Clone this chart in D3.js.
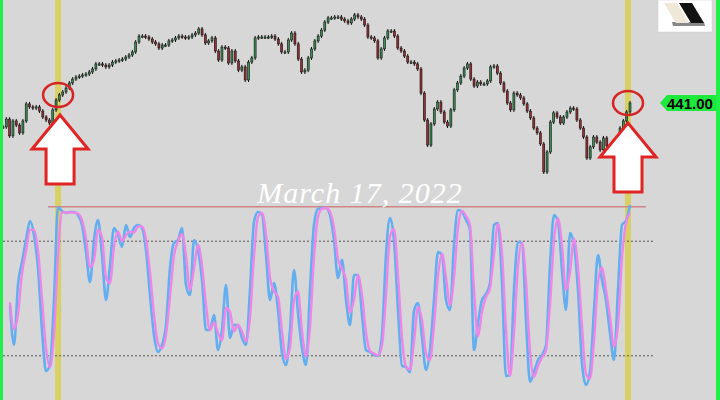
<!DOCTYPE html>
<html>
<head>
<meta charset="utf-8">
<script src="https://cdn.jsdelivr.net/npm/d3@7"></script>
<style>
body{margin:0;background:#d7d7d7;}
svg{display:block;}
</style>
</head>
<body>
<svg></svg>
<script>
// closing prices, one per bar
var closes = [430.6,434.0,426.7,433.2,431.4,428.0,433.2,440.6,439.3,438.8,
    439.3,437.5,434.9,433.6,432.3,438.0,442.3,444.5,445.8,447.5,
    449.7,451.4,452.3,452.7,453.2,453.6,454.5,455.8,458.0,458.0,
    457.5,456.7,457.5,458.8,459.3,459.7,460.1,461.0,461.9,463.2,
    467.5,470.1,470.1,469.7,468.8,467.5,466.7,464.9,466.2,466.2,
    468.0,468.4,469.3,470.1,469.7,469.3,469.7,470.6,471.4,473.2,
    470.6,467.1,468.0,469.3,463.6,459.7,465.3,464.9,458.4,463.6,
    459.3,455.3,456.7,451.0,458.8,460.6,469.3,469.7,469.7,469.7,
    469.7,470.1,468.8,466.7,463.2,463.2,468.4,471.4,466.7,460.1,
    454.5,455.3,460.6,464.5,468.0,470.1,472.7,476.2,478.0,478.0,
    478.4,478.4,477.5,476.7,475.8,477.5,479.3,478.4,477.5,474.9,
    469.7,469.3,468.0,460.6,464.5,469.3,472.3,472.3,470.1,464.9,
    463.6,461.4,458.8,458.8,458.0,455.8,445.3,433.6,422.7,431.9,
    438.4,441.4,437.1,432.7,431.0,438.0,446.7,449.7,452.7,456.2,
    458.0,451.4,448.4,450.1,449.3,449.3,450.6,456.7,457.1,454.0,
    449.7,446.2,441.0,438.0,445.3,444.5,443.2,440.6,437.5,434.5,
    430.1,428.0,423.2,411.0,419.7,432.7,436.7,434.9,432.3,434.9,
    437.1,438.8,438.4,433.6,430.1,426.2,417.1,421.9,426.2,424.0,
    420.6,425.8,422.3,418.4,417.1,424.5,430.1,433.2,437.1,441.0]

// stochastic %K and %D
var stochK = [46.6,25.7,57.1,69.1,80.6,90.6,83.2,66.0,33.5,12.0,
    15.2,49.2,97.9,95.8,94.8,95.3,95.3,93.7,88.5,74.3,
    58.6,80.6,91.1,72.8,49.2,67.5,86.9,83.2,77.0,88.5,
    82.2,86.9,88.5,86.9,75.4,51.8,30.9,22.0,25.7,36.1,
    66.0,79.1,80.6,86.9,57.1,51.8,80.6,75.4,59.7,33.5,
    33.5,41.4,23.0,33.5,57.1,29.3,36.1,36.1,29.3,25.7,
    54.5,90.1,95.3,94.2,72.8,49.2,58.1,44.0,21.5,15.2,
    33.5,64.9,42.4,24.1,15.2,54.5,88.5,96.9,97.4,97.4,
    93.7,80.6,60.7,70.2,49.2,36.1,62.3,62.3,41.4,23.0,
    22.0,20.4,19.9,30.9,72.8,92.1,80.6,44.0,14.7,14.1,
    11.5,43.5,47.6,29.8,12.6,23.0,49.2,74.3,72.8,49.2,
    44.0,78.0,96.3,95.3,91.1,85.9,23.0,37.2,49.2,52.4,
    58.1,88.5,89.5,58.1,9.4,9.9,54.5,79.6,79.1,38.7,
    6.3,11.5,17.8,20.4,25.7,67.5,93.7,90.1,64.9,44.0,
    84.3,78.0,54.5,16.2,4.7,11.5,44.0,72.8,59.7,49.2,
    31.9,17.8,54.5,88.5,90.6,99.0]

var stochD = [48,34,42,63,75,86,86,75,50,24,
    14,32,72,95,95,95,95,94.5,91,81.5,
    66.5,70,86,82,61,58,77,85,80,83,
    85,84.5,87.7,87.7,81,63.6,41.4,26.5,23.9,31,
    51,72.5,80,83.8,72,54.5,66,78,67.5,46.6,
    33.5,37.5,32,28,45,43,32.7,36.1,32.7,27.5,
    40,72.3,92.7,94.8,83.5,61,53.7,51,32.8,18.4,
    24.4,49,53.7,33,19.7,35,71.5,92.7,97,97.4,
    95.5,87,70.7,65.5,59.7,42.7,49.2,62.3,51.9,32.2,
    22.5,21.2,20.2,25.4,51.9,82.5,86.4,62.3,29.4,14.4,
    12.8,27.5,45.6,38.7,21.2,17.8,36.1,61.8,73.5,61,
    46.6,61,87.2,95.8,93.2,88.5,54.5,30,43,50.8,
    55.3,73.3,89,73.8,33.8,9.6,32.2,67,79.4,58.9,
    22.5,8.9,14.7,19.1,23,46.6,80.6,91.9,77.5,54.5,
    64.1,81.2,66.2,35.3,10.5,8.1,27.7,58.4,66.2,54.5,
    40.5,24.8,36.1,71.5,89.5,94.8]

var stochLevels = [20, 80]
var signalLevel = 98
var lastPrice = 441.00
var markBars = [16.6, 188.4]          // yellow verticals, in bar units
var markPrices = [444.5, 441.0]       // where the red rings sit
var dateLabel = "March 17, 2022"

var screen = {width:720,height:400}

var svg = d3.select("svg")
    .attr("width",screen.width)
    .attr("height",screen.height)

var xScale = d3.scaleLinear().domain([0,closes.length-1]).range([3,630])
var yScale = d3.scaleLinear().domain([407,481]).range([181.2,11])
var kxScale = d3.scaleLinear().domain([0,stochK.length-1]).range([10,630])
var kyScale = d3.scaleLinear().domain([0,100]).range([394,203])

svg.append("rect")
    .attr("width",screen.width)
    .attr("height",screen.height)
    .attr("fill","#d7d7d7")

// yellow marker lines
svg.selectAll(".mark")
    .data(markBars)
    .enter()
    .append("rect")
    .attr("class","mark")
    .attr("x",function(d){ return xScale(d)-3 })
    .attr("y",0)
    .attr("width",6)
    .attr("height",screen.height)
    .attr("fill","#d9d063")

// dotted 20 / 80 levels
svg.selectAll(".level")
    .data(stochLevels)
    .enter()
    .append("line")
    .attr("class","level")
    .attr("x1",3)
    .attr("x2",654)
    .attr("y1",function(d){ return kyScale(d) })
    .attr("y2",function(d){ return kyScale(d) })
    .attr("stroke","#555")
    .attr("stroke-width",1)
    .attr("stroke-dasharray","2,2")

svg.append("line")
    .attr("x1",48)
    .attr("x2",646)
    .attr("y1",kyScale(signalLevel))
    .attr("y2",kyScale(signalLevel))
    .attr("stroke","#d08585")
    .attr("stroke-width",1.5)

// candles
var candles = svg.append("g").attr("id","candles")
    .selectAll("g")
    .data(closes)
    .enter()
    .append("g")

var openOf = function(i){ return i>0 ? closes[i-1] : closes[0] }

candles.append("line")
    .attr("x1",function(d,i){ return xScale(i) })
    .attr("x2",function(d,i){ return xScale(i) })
    .attr("y1",function(d,i){ return yScale(Math.max(d,openOf(i)))-2 })
    .attr("y2",function(d,i){ return yScale(Math.min(d,openOf(i)))+2 })
    .attr("stroke","#111")
    .attr("stroke-width",1)

candles.append("rect")
    .attr("x",function(d,i){ return xScale(i)-1 })
    .attr("width",2)
    .attr("y",function(d,i){ return yScale(Math.max(d,openOf(i))) })
    .attr("height",function(d,i){ return Math.max(1.2,Math.abs(yScale(d)-yScale(openOf(i)))) })
    .attr("fill",function(d,i){ return d>=openOf(i) ? "#3d8f55" : "#9c2f35" })
    .attr("stroke","#111")
    .attr("stroke-width",0.6)

// stochastic lines
var kLine = d3.line()
    .x(function(d,i){ return kxScale(i) })
    .y(function(d){ return kyScale(d) })
    .curve(d3.curveMonotoneX)

svg.append("path")
    .datum(stochK)
    .attr("d",kLine)
    .attr("fill","none")
    .attr("stroke","#62aef0")
    .attr("stroke-width",2.6)

svg.append("path")
    .datum(stochD)
    .attr("d",kLine)
    .attr("fill","none")
    .attr("stroke","#ee86ea")
    .attr("stroke-width",2.4)

// date text
svg.append("text")
    .attr("x",360)
    .attr("y",203)
    .attr("text-anchor","middle")
    .attr("font-family","Liberation Serif")
    .attr("font-style","italic")
    .attr("font-size",30)
    .attr("letter-spacing",1)
    .attr("fill","#ffffff")
    .text(dateLabel)

// red rings
svg.selectAll(".ring")
    .data(markBars)
    .enter()
    .append("ellipse")
    .attr("class","ring")
    .attr("cx",function(d){ return xScale(d) })
    .attr("cy",function(d,i){ return yScale(markPrices[i]) })
    .attr("rx",15)
    .attr("ry",12)
    .attr("fill","none")
    .attr("stroke","#d62424")
    .attr("stroke-width",2.5)

// up arrows under the rings
var arrowPath = function(cx,tip)
{
    var p = [[cx,tip],[cx+28,tip+34],[cx+14,tip+34],[cx+14,tip+69],
             [cx-14,tip+69],[cx-14,tip+34],[cx-28,tip+34]]
    return "M"+p.join("L")+"Z"
}

svg.selectAll(".arrow")
    .data(markBars)
    .enter()
    .append("path")
    .attr("class","arrow")
    .attr("d",function(d,i){ return arrowPath(xScale(d)+(i==0?2:0), yScale(markPrices[i])+20) })
    .attr("fill","#ffffff")
    .attr("stroke","#e02424")
    .attr("stroke-width",3)
    .attr("stroke-linejoin","miter")

// last price tag
var tagY = yScale(lastPrice)
svg.append("path")
    .attr("d","M660,"+tagY+"L667,"+(tagY-8)+"L720,"+(tagY-8)+"L720,"+(tagY+8)+"L667,"+(tagY+8)+"Z")
    .attr("fill","#1fe83c")
svg.append("text")
    .attr("x",667)
    .attr("y",tagY+5.5)
    .attr("font-family","Liberation Sans")
    .attr("font-weight","bold")
    .attr("font-size",15)
    .attr("fill","#000")
    .text(lastPrice.toFixed(2))

// logo box
var logo = svg.append("g").attr("transform","translate(658,0)")
logo.append("rect").attr("width",54).attr("height",32).attr("fill","#fff")
    .attr("stroke","#ccc").attr("stroke-width",0.5)
logo.append("path").attr("d","M14,22L46,22L47,26L15,26Z").attr("fill","#888")
logo.append("path").attr("d","M6,3L19,3L31,23L18,23Z").attr("fill","#efe8d8")
logo.append("path").attr("d","M21,3L34,3L46,23L33,23Z").attr("fill","#111")

// green frame
svg.append("rect").attr("x",0).attr("y",0).attr("width",3).attr("height",screen.height).attr("fill","#1ff04a")
svg.append("rect").attr("x",716).attr("y",0).attr("width",4).attr("height",screen.height).attr("fill","#1ff04a")
</script>
</body>
</html>
